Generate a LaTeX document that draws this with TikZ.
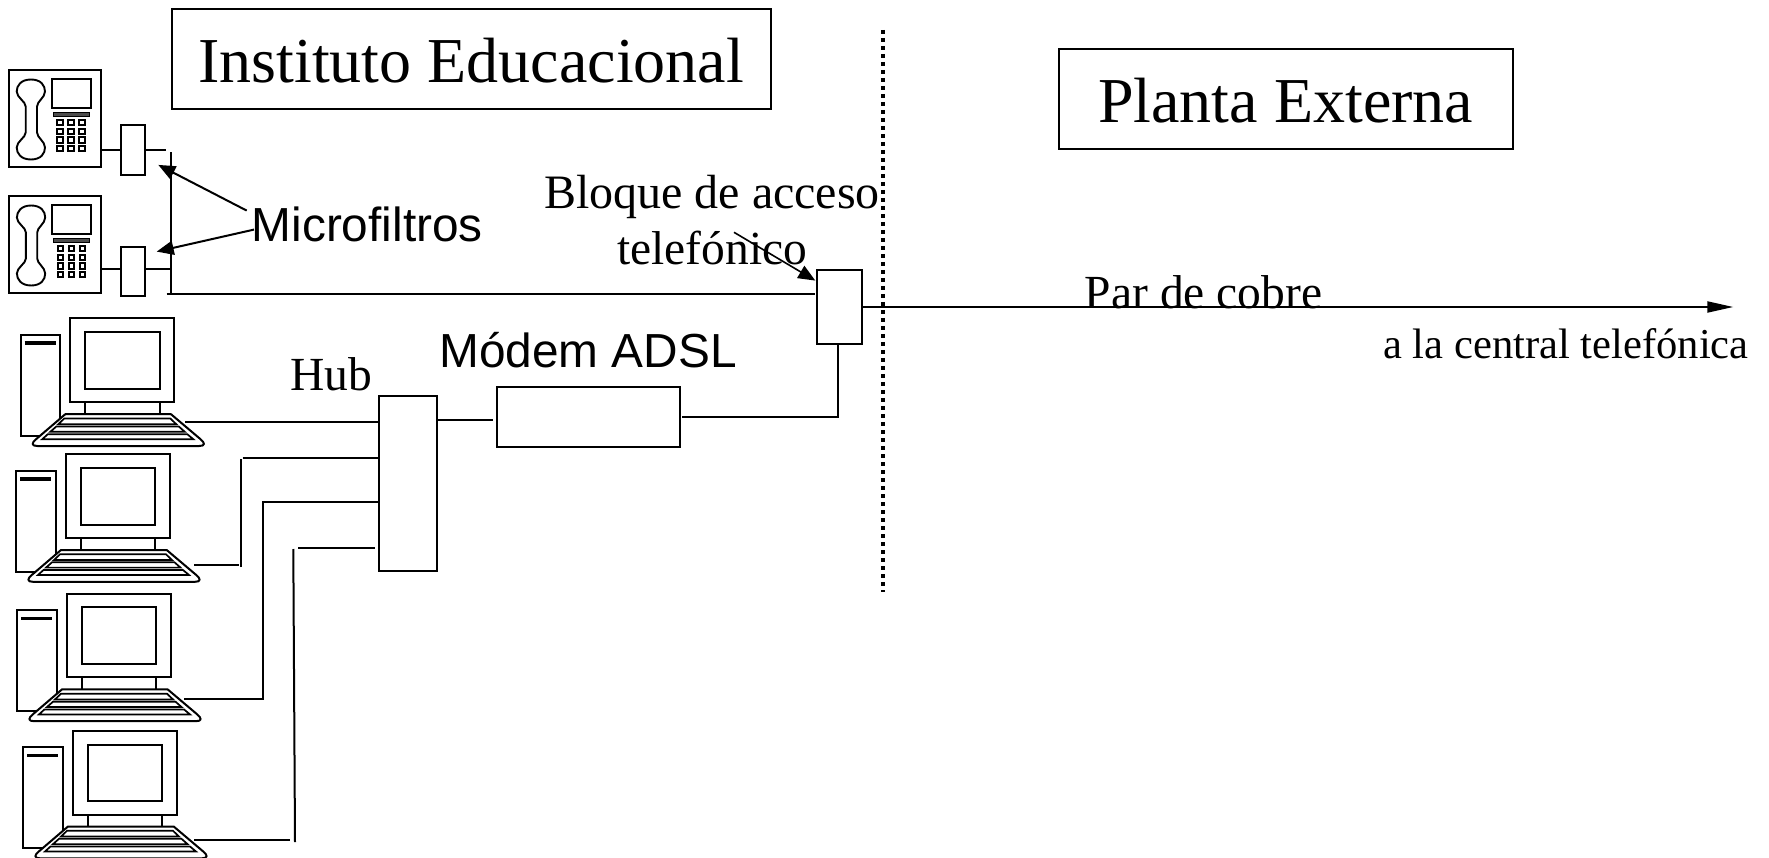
\documentclass[tikz,border=0pt]{standalone}
\usepackage{fontspec}
\setmainfont{Liberation Serif}
\newfontfamily\arialfont{Liberation Sans}
\usetikzlibrary{arrows.meta}
\tikzset{
  wire/.style={line width=2pt},
  boxnode/.style={draw,line width=2pt,fill=white,inner sep=0pt,outer sep=0pt,anchor=north west},
  titlebox/.style={draw,line width=1.8pt,inner sep=0pt,outer sep=0pt,font=\fontsize{64}{64}\selectfont,text depth=12pt},
  serifl/.style={inner sep=0pt,outer sep=0pt,anchor=base,font=\fontsize{47.5}{47.5}\selectfont},
  sansl/.style={inner sep=0pt,outer sep=0pt,anchor=base,font=\arialfont\fontsize{47.8}{47.8}\selectfont},
  bigtip/.style={-{Triangle[length=17pt,width=14pt]}},
  telset/.pic={
    \draw[line width=2pt] (0,0) rectangle (92,97);
    \draw[line width=1.9pt] (22,9) .. controls (12,9) and (7.7,15) .. (7.7,21) .. controls (7.7,27) and (16.7,31) .. (16.7,36) -- (16.7,62) .. controls (16.7,67) and (7.7,71) .. (7.7,77) .. controls (7.7,83) and (12,89) .. (22,89) .. controls (32,89) and (36,83) .. (36,77) .. controls (36,71) and (28,67) .. (28,62) -- (28,36) .. controls (28,31) and (36,27) .. (36,21) .. controls (36,15) and (32,9) .. (22,9) -- cycle;
    \draw[line width=1.9pt] (43,8.7) rectangle (81.7,37.3);
    \draw[line width=1pt,fill=black!70] (44,42.3) rectangle (80.7,45.8);
    \foreach \kx in {51,62,73}{\foreach \ky in {52.3,61,69.7,78.3}{
      \draw[line width=2pt] (\kx-2.7,\ky-2.7) rectangle (\kx+2.7,\ky+2.7);}}
  },
  pcset/.pic={
    \draw[line width=2pt] (-49.7,16.3) rectangle (-10.3,117.3);
    \draw[line width=3.5pt] (-45.7,24.7) -- (-14.7,24.7);
    \draw[line width=2pt] (0,0) rectangle (104,83.7);
    \draw[line width=2pt] (14.7,13.7) rectangle (89.3,70.3);
    \draw[line width=2pt] (14.7,83.7) -- (14.7,95.7);
    \draw[line width=2pt] (89.3,83.7) -- (89.3,95.7);
    \draw[line width=2pt,fill=white,line join=round] (-5,95.7) -- (100.7,95.7) -- (130,120.5) .. controls (135,124.5) and (135,127.5) .. (129,127.5) -- (-33,127.5) .. controls (-39,127.5) and (-39,124.5) .. (-34,120.5) -- cycle;
    \draw[line width=1.7pt,fill=white] (-6,100) -- (100,100) -- (106,105.7) -- (-12,105.7) -- cycle;
    \draw[line width=1.7pt,fill=white] (-14,108) -- (108.5,108) -- (114.5,113.3) -- (-20,113.3) -- cycle;
    \draw[line width=1.7pt,fill=white] (-22.5,115.7) -- (117,115.7) -- (123,120.7) -- (-28,120.7) -- cycle;
  }
}
\begin{document}
\begin{tikzpicture}[x=1pt,y=-1pt]
\useasboundingbox (0,0) rectangle (1769,858);

% divider
\coordinate (divtop) at (883,30);
\coordinate (divbot) at (883,592);
\draw[line width=4pt,dash pattern=on 4pt off 4pt] (divtop) -- (divbot);

% titles
\node[titlebox,minimum width=599pt,minimum height=100pt,text height=60pt] (inst) at (471.2,59) {Instituto Educacional};
\node[titlebox,minimum width=454pt,minimum height=100pt,text height=58.5pt] (planta) at (1285.6,99) {Planta Externa};

% telephones and computers
\pic (tel1) at (9,70.5) {telset};
\pic (tel2) at (9.2,196.5) {telset};
\pic (pc1) at (70.3,318.5) {pcset};
\pic (pc2) at (66,454.3) {pcset};
\pic (pc3) at (67,593.7) {pcset};
\pic (pc4) at (73,730.8) {pcset};

% boxes
\node[boxnode,minimum width=23.4pt,minimum height=49.6pt] (filt1) at (121.3,125.2) {};
\node[boxnode,minimum width=23.4pt,minimum height=49.7pt] (filt2) at (121.3,246.6) {};
\node[boxnode,minimum width=58.3pt,minimum height=175.3pt] (hub) at (379,395.6) {};
\node[boxnode,minimum width=182.7pt,minimum height=60pt] (modem) at (497,387.3) {};
\node[boxnode,minimum width=45.3pt,minimum height=74.7pt] (block) at (816.7,269.6) {};

% free ends
\coordinate (t1out) at (100.5,149.9);
\coordinate (t1stub) at (166,149.9);
\coordinate (t2out) at (101.5,268.9);
\coordinate (t2stub) at (169.5,268.9);
\coordinate (bustop) at (170.7,152.2);
\coordinate (busjoin) at (170.7,293.8);
\coordinate (busleft) at (166.7,293.8);
\coordinate (busright) at (815,293.8);
\coordinate (pc1out) at (185.3,422.3);
\coordinate (pc2out) at (194,564.9);
\coordinate (pc2end) at (239,564.9);
\coordinate (v2bot) at (241,567.2);
\coordinate (v2top) at (241,458.9);
\coordinate (h2start) at (242.7,458.3);
\coordinate (pc3out) at (184,698.6);
\coordinate (c3corner) at (262.5,698.6);
\coordinate (c3top) at (262.5,501.9);
\coordinate (pc4out) at (194.3,840);
\coordinate (pc4end) at (290,840);
\coordinate (v4bot) at (295,842);
\coordinate (v4top) at (293.3,549);
\coordinate (h4start) at (298.3,548);
\coordinate (h4end) at (375.3,548);
\coordinate (hubmodem) at (493.3,419.6);
\coordinate (modemout) at (682,416.6);
\coordinate (mbcorner) at (838.3,416.6);
\coordinate (lineout) at (863,307);
\coordinate (linetip) at (1733.3,307);
\coordinate (mfa) at (246.7,210.6);
\coordinate (mfatip) at (158.3,164.9);
\coordinate (mfb) at (254,229.6);
\coordinate (mfbtip) at (156.7,251.6);
\coordinate (blka) at (734,232.3);
\coordinate (blktip) at (815.3,280.6);

% telephone wiring
\draw[wire] (t1out) -- (t1out -| filt1.west);
\draw[wire] (t1stub -| filt1.east) -- (t1stub);
\draw[wire] (t2out) -- (t2out -| filt2.west);
\draw[wire] (t2stub -| filt2.east) -- (t2stub);
\draw[wire] (bustop) -- (busjoin);
\draw[wire] (busleft) -- (busright);
\draw[wire,-{Triangle[length=26pt,width=11pt]}] (lineout) -- (linetip);

% computer wiring
\draw[wire] (pc1out) -- (pc1out -| hub.west);
\draw[wire] (pc2out) -- (pc2end);
\draw[wire] (v2bot) -- (v2top);
\draw[wire] (h2start) -- (h2start -| hub.west);
\draw[wire] (pc3out) -- (c3corner) -- (c3top) -- (c3top -| hub.west);
\draw[wire] (pc4out) -- (pc4end);
\draw[wire] (v4bot) -- (v4top);
\draw[wire] (h4start) -- (h4end);
\draw[wire] (hubmodem -| hub.east) -- (hubmodem);
\draw[wire] (modemout) -- (mbcorner) -- (mbcorner |- block.south);

% labels
\node[sansl] (lmf) at (367.2,241.8) {Microfiltros};
\node[serifl,font=\fontsize{48}{48}\selectfont] (lbl1) at (712,209) {Bloque de acceso};
\node[serifl] (lbl2) at (712.2,264.5) {telefónico};
\node[sansl] (lmodem) at (588,367) {Módem ADSL};
\node[serifl] (lhub) at (331,390.7) {Hub};
\node[serifl] (lpar) at (1203.5,308.6) {Par de cobre};
\node[inner sep=0pt,outer sep=0pt,anchor=base,font=\fontsize{42.6}{42.6}\selectfont] (lcent) at (1566,359) {a la central telefónica};

% pointers
\draw[wire,bigtip] (mfa) -- (mfatip);
\draw[wire,bigtip] (mfb) -- (mfbtip);
\draw[line width=1.6pt,bigtip] (blka) -- (blktip);
\end{tikzpicture}
\end{document}
